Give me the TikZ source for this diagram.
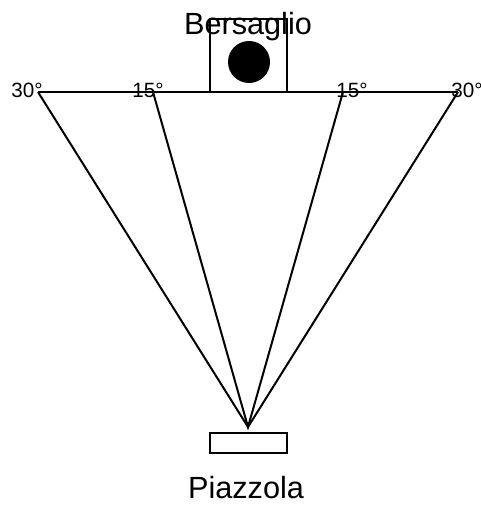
\documentclass[tikz,border=0pt]{standalone}
\usepackage{fontspec}
\setmainfont{Liberation Sans}
\usetikzlibrary{positioning}

\begin{document}
\begin{tikzpicture}[x=0.75pt, y=-0.75pt,
        ray/.style={draw=black, line width=1.5pt, line join=miter},
        frame/.style={draw=black, line width=1pt},
        lbl/.style={font=\fontsize{23}{27}\selectfont, anchor=base, inner sep=0pt},
        ang/.style={font=\fontsize{15.5}{18}\selectfont, anchor=base, inner sep=0pt}]
        \useasboundingbox (0,0) rectangle (480,509);
        % target
        \draw[frame] (210,92) -- (210,19) -- (287,19) -- (287,92);
        \fill (249,62) circle (21);
        \node[lbl] (target) at (248,35) {Bersaglio};
        % baseline and rays
        \coordinate (apex) at (248,427);
        \coordinate (l30) at (38,92);
        \coordinate (l15) at (153,92);
        \coordinate (r15) at (343,92);
        \coordinate (r30) at (458,92);
        \draw[ray] (l30) -- (r30);
        \draw[ray] (l30) -- (apex) -- (r30);
        \draw[ray] (l15) -- (apex) -- (r15);
        \node[ang] (a1) at (27,98) {30°};
        \node[ang] (a2) at (148,98) {15°};
        \node[ang] (a3) at (352,98) {15°};
        \node[ang] (a4) at (467,98) {30°};
        % platform
        \node[frame, minimum width=77*0.75pt, minimum height=20*0.75pt, inner sep=0pt] (pad) at (248.5,443) {};
        \node[lbl] (place) at (246,498) {Piazzola};
\end{tikzpicture}
\end{document}
